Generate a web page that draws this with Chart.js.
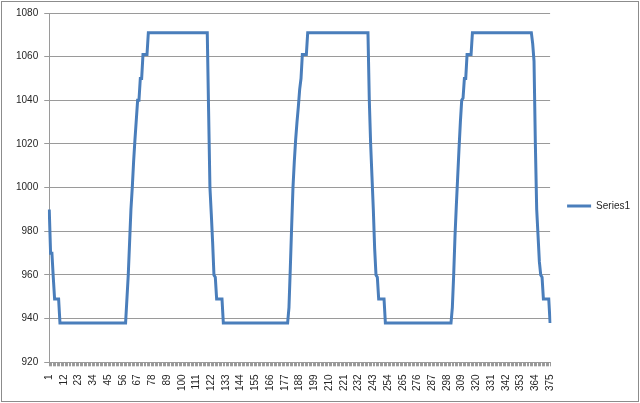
<!DOCTYPE html>
<html>
<head>
<meta charset="utf-8">
<script src="https://cdn.jsdelivr.net/npm/chart.js@4.4.0/dist/chart.umd.min.js"></script>
<style>
  html, body { margin: 0; padding: 0; background: #fff; }
  canvas { display: block; }
</style>
</head>
<body>
<canvas id="myChart" width="640" height="403"></canvas>
<script>
// Series1, one value per point (1..375)
var series1 = [
  // 1-8
  990, 970, 970, 959, 949, 949, 949, 949,
  // 9-58
  938, 938, 938, 938, 938, 938, 938, 938, 938, 938,
  938, 938, 938, 938, 938, 938, 938, 938, 938, 938,
  938, 938, 938, 938, 938, 938, 938, 938, 938, 938,
  938, 938, 938, 938, 938, 938, 938, 938, 938, 938,
  938, 938, 938, 938, 938, 938, 938, 938, 938, 938,
  // 59-74 rise
  949, 960, 975, 990, 1000, 1012, 1022, 1031, 1040, 1040, 1050, 1050, 1061, 1061, 1061, 1061,
  // 75-119 top
  1071, 1071, 1071, 1071, 1071, 1071, 1071, 1071, 1071, 1071,
  1071, 1071, 1071, 1071, 1071, 1071, 1071, 1071, 1071, 1071,
  1071, 1071, 1071, 1071, 1071, 1071, 1071, 1071, 1071, 1071,
  1071, 1071, 1071, 1071, 1071, 1071, 1071, 1071, 1071, 1071,
  1071, 1071, 1071, 1071, 1071,
  // 120-130 fall
  1035, 1000, 988, 975, 960, 959, 949, 949, 949, 949, 949,
  // 131-179
  938, 938, 938, 938, 938, 938, 938, 938, 938, 938,
  938, 938, 938, 938, 938, 938, 938, 938, 938, 938,
  938, 938, 938, 938, 938, 938, 938, 938, 938, 938,
  938, 938, 938, 938, 938, 938, 938, 938, 938, 938,
  938, 938, 938, 938, 938, 938, 938, 938, 938,
  // 180-193 rise
  945, 963, 982, 1000, 1012, 1022, 1030, 1037, 1045, 1050, 1061, 1061, 1061, 1061,
  // 194-239 top
  1071, 1071, 1071, 1071, 1071, 1071, 1071, 1071, 1071, 1071,
  1071, 1071, 1071, 1071, 1071, 1071, 1071, 1071, 1071, 1071,
  1071, 1071, 1071, 1071, 1071, 1071, 1071, 1071, 1071, 1071,
  1071, 1071, 1071, 1071, 1071, 1071, 1071, 1071, 1071, 1071,
  1071, 1071, 1071, 1071, 1071, 1071,
  // 240-251 fall
  1040, 1020, 1005, 990, 972, 960, 959, 949, 949, 949, 949, 949,
  // 252-301
  938, 938, 938, 938, 938, 938, 938, 938, 938, 938,
  938, 938, 938, 938, 938, 938, 938, 938, 938, 938,
  938, 938, 938, 938, 938, 938, 938, 938, 938, 938,
  938, 938, 938, 938, 938, 938, 938, 938, 938, 938,
  938, 938, 938, 938, 938, 938, 938, 938, 938, 938,
  // 302-316 rise
  945, 960, 978, 992, 1005, 1018, 1030, 1040, 1041, 1050, 1050, 1061, 1061, 1061, 1061,
  // 317-361 top
  1071, 1071, 1071, 1071, 1071, 1071, 1071, 1071, 1071, 1071,
  1071, 1071, 1071, 1071, 1071, 1071, 1071, 1071, 1071, 1071,
  1071, 1071, 1071, 1071, 1071, 1071, 1071, 1071, 1071, 1071,
  1071, 1071, 1071, 1071, 1071, 1071, 1071, 1071, 1071, 1071,
  1071, 1071, 1071, 1071, 1071,
  // 362-375 fall
  1066, 1058, 1020, 990, 978, 966, 960, 959, 949, 949, 949, 949, 949, 938
];

// x categories are just the point numbers
var categories = series1.map(function(v, i) { return String(i + 1); });

// the labels Excel actually printed on the x axis
var tickLabels = ['1', '12', '23', '34', '45', '56', '67', '78', '89', '100', '111', '122',
  '133', '144', '155', '166', '177', '188', '199', '210', '221', '232', '243', '254',
  '265', '276', '287', '298', '309', '320', '331', '342', '353', '364', '375'];

var yMin = 920, yMax = 1080, yStep = 20;

var textColor = '#262626';
var gridColor = '#9a9a9a';
var font = { family: 'Liberation Sans', size: 10 };

// grey frame round the whole chart, like the Excel chart area border
var framePlugin = {
  id: 'frame',
  afterDraw: function(chart) {
    var c = chart.ctx;
    c.save();
    c.strokeStyle = '#8c8c8c';
    c.lineWidth = 1;
    c.strokeRect(1.5, 1.5, chart.width - 3, chart.height - 3);
    c.restore();
  }
};

var ctx = document.getElementById('myChart');
var chart = new Chart(ctx, {
  type: 'line',
  data: {
    labels: categories,
    datasets: [{
      label: 'Series1',
      data: series1,
      borderColor: '#4a7ebb',
      backgroundColor: '#4a7ebb',
      borderWidth: 3,
      pointRadius: 0,
      tension: 0,
      fill: false
    }]
  },
  options: {
    responsive: false,
    animation: false,
    devicePixelRatio: 1,
    layout: { padding: { left: 10, top: 13, right: 0, bottom: 4 } },
    plugins: {
      legend: {
        position: 'right',
        labels: {
          usePointStyle: true,
          pointStyle: 'line',
          pointStyleWidth: 24,
          boxWidth: 24,
          padding: 17,
          color: textColor,
          font: font
        }
      },
      tooltip: { enabled: false }
    },
    scales: {
      x: {
        grid: { drawOnChartArea: false, drawTicks: true, tickLength: 4, color: gridColor },
        border: { color: gridColor },
        ticks: {
          autoSkip: false,
          maxRotation: 90,
          minRotation: 90,
          padding: 8,
          color: textColor,
          font: font,
          callback: function(v, i) {
            var l = categories[i];
            return tickLabels.indexOf(l) >= 0 ? l : '';
          }
        }
      },
      y: {
        min: yMin,
        max: yMax,
        grid: { color: gridColor, tickLength: 5 },
        border: { color: gridColor },
        ticks: {
          stepSize: yStep,
          padding: 6,
          color: textColor,
          font: font,
          callback: function(v) { return String(v); }
        }
      }
    }
  },
  plugins: [framePlugin]
});
</script>
</body>
</html>
